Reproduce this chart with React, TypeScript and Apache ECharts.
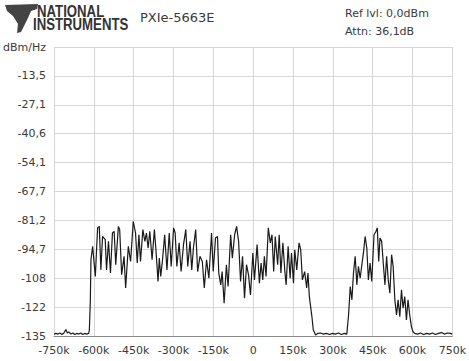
import React, { useEffect, useRef } from "react";
import * as echarts from "echarts";

const freqKHz: number[] = [
  -750, -742.5, -735, -727.6, -720.1, -712.7, -705.2, -699.6, -694.0, -686.6, -679.1, -671.6, -664.2, -656.7, -649.3, -641.8, -634.3, -626.9, -619.4, -616.8, -613.1, -610.8,
  -604.5, -594.4, -585.8, -579.5, -573.5, -567.2, -557.1, -552.2, -544.8, -537.3, -529.9, -523.5, -517.5, -507.5, -502.6, -495.2, -486.2, -480.2, -470.1, -461.6, -451.5, -442.9, -436.6, -430.2, -424.3, -415.3, -407.8, -401.9, -395.5, -389.2, -380.6, -372.0, -365.7, -358.2, -353.4, -348.1, -340.7, -333.2, -324.6, -316.0, -308.6, -299.6, -293.7, -287.3, -278.7, -271.3, -262.3, -253.7, -246.3, -237.7, -231.3, -225.0, -216.4, -209.0, -200.4, -191.4, -184.0, -175.4, -166.8, -156.7, -150.4, -141.8, -134.3, -129.5, -122.0, -116.8, -109.3, -100.8, -94.4, -84.7, -78.4, -69.8, -62.3, -54.8, -47.4, -39.9, -32.5, -25.0, -17.5, -10.1, -1.1, 4.9, 14.9, 23.5, 29.9, 36.2, 42.2, 48.5, 57.1, 64.6, 70.9, 77.3, 83.2, 92.2, 98.1, 104.5, 111.9, 119.4, 124.3, 131.7, 139.2, 144.4, 151.9, 156.7, 164.2, 172.8, 179.1, 185.4, 194.0, 201.5, 206.3, 211.6, 216.4, 221.3, 226.5, 235.1,
  242.6, 253.7, 264.9, 276.1, 287.3, 298.5, 309.7, 320.9, 332.1, 343.3, 352.6,
  359.3, 365.6, 371.9, 377.8, 384.2, 390.5, 396.4, 402.9, 409.3, 415.3, 421.6, 428.0, 433.9, 440.3, 446.6, 455.2, 462.7, 467.5, 472.8, 477.6, 484.0, 489.9, 496.3, 502.6, 508.6, 514.9, 521.3, 527.2, 533.6, 539.9, 545.9, 552.2, 558.6, 564.5, 570.9, 577.2, 583.2, 589.6, 595.9, 601.9, 608.2,
  619.4, 630.6, 641.8, 653.0, 664.2, 675.4, 686.6, 697.8, 709.0, 720.1, 731.3, 742.5, 750,
];

const levelDbm: number[] = [
  -134.1, -133.8, -134.1, -133.6, -134.3, -133.6, -132.0, -133.6, -133.1, -134.1, -133.6, -134.3, -133.8, -134.1, -133.6, -134.3, -133.8, -134.1, -133.8, -132.2, -118.1, -99.4,
  -93.1, -107.2, -84.5, -83.8, -104.1, -88.5, -90.0, -104.1, -90.8, -105.6, -86.9, -86.1, -101.7, -83.8, -85.3, -106.4, -97.8, -112.6, -93.1, -100.2, -81.4, -86.9, -100.9, -87.7, -100.2, -85.3, -90.8, -86.9, -93.9, -86.1, -99.4, -85.3, -95.5, -109.5, -98.6, -107.2, -98.6, -87.7, -104.1, -86.9, -102.5, -84.5, -86.9, -102.5, -91.5, -104.9, -92.3, -85.3, -102.5, -90.8, -104.1, -93.9, -85.3, -104.9, -97.8, -100.2, -112.6, -99.4, -108.0, -86.9, -104.9, -89.2, -88.5, -105.6, -111.1, -104.9, -119.7, -101.7, -111.9, -87.7, -98.6, -87.7, -83.8, -90.8, -109.5, -97.8, -117.3, -101.7, -106.4, -115.8, -96.2, -108.8, -92.3, -110.3, -100.9, -108.8, -97.8, -107.2, -84.5, -91.5, -87.7, -104.9, -88.5, -101.7, -87.7, -105.6, -91.5, -104.9, -111.1, -93.1, -108.0, -96.2, -110.3, -94.7, -104.1, -91.5, -94.7, -108.8, -104.9, -112.6, -105.6, -116.6, -121.3, -126.0, -132.2, -134.5,
  -133.8, -133.6, -134.1, -133.8, -134.3, -133.8, -134.1, -133.6, -134.3, -133.8, -134.1,
  -125.2, -111.9, -118.1, -105.6, -97.8, -111.1, -102.5, -108.0, -101.7, -96.2, -88.5, -93.9, -108.8, -100.9, -109.5, -87.7, -86.1, -84.5, -100.2, -89.2, -90.8, -100.9, -111.1, -97.8, -108.8, -115.0, -97.0, -102.5, -118.1, -125.2, -118.1, -126.0, -113.4, -122.0, -116.6, -127.5, -118.1, -125.2, -130.6, -133.0, -133.8,
  -134.1, -133.6, -134.3, -133.8, -134.1, -133.6, -134.3, -133.8, -133.4, -134.1, -133.6, -133.8, -134.1,
];

const yTickLabels: string[] = ["dBm/Hz", "-13,5", "-27,1", "-40,6", "-54,1", "-67,7", "-81,2", "-94,7", "-108", "-122", "-135"];

const instrumentName = "PXIe-5663E";
const refLevelText = "Ref lvl: 0,0dBm";
const attnText = "Attn: 36,1dB";

export default function App() {
  const ref = useRef<HTMLDivElement>(null);
  useEffect(() => {
    if (!ref.current) return;
    const chart = echarts.init(ref.current, null, { renderer: "svg" });
    const data = freqKHz.map((f, i) => [f, levelDbm[i]]);
    const font = "DejaVu Sans";
    chart.setOption({
      animation: false,
      backgroundColor: "#ffffff",
      grid: { left: 51, right: 16, top: 47, bottom: 25, containLabel: false },
      xAxis: {
        type: "value",
        min: -750,
        max: 750,
        interval: 150,
        axisLine: { show: true, onZero: false, lineStyle: { color: "#8a8a8a", width: 1 } },
        axisTick: { show: false },
        splitLine: { show: true, lineStyle: { color: "#d6d6d6", width: 1 } },
        axisLabel: {
          color: "#3a3a3a",
          fontFamily: font,
          fontSize: 11,
          margin: 9,
          formatter: (v: number) => (v === 0 ? "0" : `${v}k`),
        },
      },
      yAxis: {
        type: "value",
        min: -135,
        max: 0,
        interval: 13.5,
        axisLine: { show: false },
        axisTick: { show: false },
        splitLine: { show: true, lineStyle: { color: "#d6d6d6", width: 1 } },
        axisLabel: {
          color: "#3a3a3a",
          fontFamily: font,
          fontSize: 11,
          margin: 8,
          verticalAlign: "middle",
          padding: [7, 0, 0, 0],
          formatter: (v: number) => yTickLabels[Math.round(-v / 13.5)] ?? "",
        },
      },
      graphic: [
        {
          type: "polygon",
          shape: {
            points: [
              [5, 5], [38, 4], [37, 9], [31, 11], [28, 18], [25, 24], [21, 32], [17, 33], [18, 24], [13, 16], [7, 11],
            ],
          },
          style: { fill: "#444" },
        },
        {
          type: "text",
          x: 37,
          y: 2,
          scaleX: 0.8,
          style: { text: "NATIONAL", fill: "#333", font: "bold 16.5px 'Liberation Sans'" },
        },
        {
          type: "text",
          x: 33,
          y: 15,
          scaleX: 0.8,
          style: { text: "INSTRUMENTS", fill: "#333", font: "bold 16.5px 'Liberation Sans'" },
        },
        {
          type: "text",
          x: 140,
          y: 11,
          style: { text: instrumentName, fill: "#3a3a3a", font: `13px '${font}'` },
        },
        {
          type: "text",
          x: 345,
          y: 8,
          style: { text: refLevelText, fill: "#3a3a3a", font: `11px '${font}'` },
        },
        {
          type: "text",
          x: 345,
          y: 26,
          style: { text: attnText, fill: "#3a3a3a", font: `11px '${font}'` },
        },
      ],
      series: [
        {
          type: "line",
          data,
          symbol: "none",
          showSymbol: false,
          lineStyle: { color: "#1a1a1a", width: 1.2 },
          silent: true,
        },
      ],
    });
    return () => chart.dispose();
  }, []);
  return (
    <div
      ref={ref}
      style={{ position: "fixed", left: 0, top: 0, width: 469, height: 361, background: "#fff" }}
    />
  );
}
